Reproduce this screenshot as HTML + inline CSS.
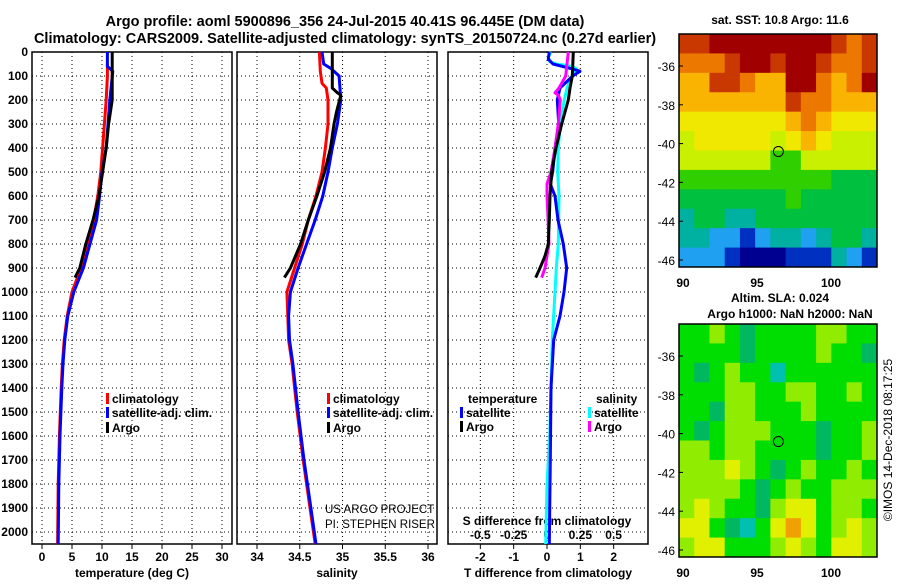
<!DOCTYPE html>
<html><head><meta charset="utf-8"><style>
body{margin:0;background:#fff;width:900px;height:580px;overflow:hidden}
svg{font-family:"Liberation Sans",sans-serif;font-weight:bold}
</style></head><body>
<svg id="c" width="900" height="580" xmlns="http://www.w3.org/2000/svg">
<text x="345" y="26" text-anchor="middle" font-size="14.5">Argo profile: aoml 5900896_356 24-Jul-2015 40.41S 96.445E (DM data)</text>
<text x="345" y="43" text-anchor="middle" font-size="14.5">Climatology: CARS2009. Satellite-adjusted climatology: synTS_20150724.nc (0.27d earlier)</text>
<text x="780" y="24" text-anchor="middle" font-size="12">sat. SST: 10.8 Argo: 11.6</text>
<text x="780" y="302" text-anchor="middle" font-size="12">Altim. SLA: 0.024</text>
<text x="790" y="318" text-anchor="middle" font-size="12">Argo h1000: NaN h2000: NaN</text>
<text transform="translate(892,440) rotate(-90)" text-anchor="middle" font-size="12" font-weight="normal">©IMOS 14-Dec-2018 08:17:25</text>
</svg>
<script>
// ---- data ----
const depthTicks=[0,100,200,300,400,500,600,700,800,900,1000,1100,1200,1300,1400,1500,1600,1700,1800,1900,2000];
const tempTicks=[0,5,10,15,20,25,30];
const salTicks=[34,34.5,35,35.5,36];
const salTickLabels=['34','34.5','35','35.5','36'];
const dTTicks=[-2,-1,0,1,2];
const dSTicks=[-0.5,-0.25,0,0.25,0.5];
const dSTickLabels=['-0.5','-0.25','0','0.25','0.5'];
const latTicks=[-36,-38,-40,-42,-44,-46];
const lonTicks=[90,95,100];

const climTDepth=[50,100,200,300,400,500,600,700,800,900,1000,1100,1200,1300,1400,1600,1800,2050];
const climT=[10.9,10.9,10.7,10.4,10.1,9.8,9.3,8.6,7.6,6.5,5.0,4.2,3.7,3.4,3.2,2.9,2.7,2.6];
const satTDepth=[0,60,80,200,400,500,600,700,800,900,1000,1100,1200,1300,1400,1600,1800,2050];
const satT=[10.9,10.9,11.8,11.3,10.7,10.0,9.6,9.1,8.0,6.9,5.3,4.3,3.8,3.5,3.3,3.0,2.8,2.7];
const argoTDepth=[0,200,300,400,500,600,700,800,900,940];
const argoT=[11.7,11.7,11.1,10.7,10.1,9.5,8.5,7.3,6.3,5.5];

const climSDepth=[0,80,130,150,200,300,400,500,600,700,800,900,1000,1100,1200,1300,1500,1700,1900,2050];
const climS=[34.73,34.74,34.76,34.81,34.83,34.83,34.80,34.76,34.69,34.60,34.53,34.44,34.35,34.36,34.37,34.41,34.47,34.54,34.62,34.68];
const satSDepth=[0,50,70,100,200,300,400,500,600,700,800,900,1000,1100,1200,1300,1500,1700,1900,2050];
const satS=[34.76,34.78,34.87,34.96,34.98,34.94,34.88,34.83,34.77,34.68,34.58,34.48,34.39,34.37,34.38,34.42,34.48,34.55,34.63,34.69];
const argoSDepth=[0,150,170,180,250,300,400,500,600,700,800,900,940];
const argoS=[34.88,34.88,34.94,34.98,34.93,34.90,34.86,34.79,34.70,34.60,34.51,34.39,34.32];

const dTsatDepth=[0,30,50,70,80,100,150,200,300,400,500,550,600,700,800,900,1000,1100,1200,1400,1700,2050];
const dTsat=[0.07,0.04,0.18,0.74,0.99,0.77,0.39,0.31,0.35,0.24,0.17,0.10,0.24,0.33,0.49,0.59,0.51,0.39,0.2,0.12,0.1,0.07];
const dTargoDepth=[0,100,150,200,300,400,500,600,700,800,850,900,940];
const dTargo=[0.79,0.76,0.69,0.64,0.44,0.27,0.14,0.09,0.07,0.04,-0.06,-0.21,-0.34];
const dSsatDepth=[0,20,40,50,60,70,100,150,200,300,400,500,600,800,900,1000,1200,1400,1600,1800,2050];
const dSsat=[0.03,0.01,0.02,0.07,0.19,0.22,0.19,0.15,0.13,0.10,0.085,0.08,0.09,0.085,0.07,0.06,0.04,0.03,0.02,0.0,-0.01];
const dSargoDepth=[0,50,100,150,170,180,200,300,400,500,550,600,700,800,900,940];
const dSargo=[0.16,0.15,0.14,0.09,0.06,0.085,0.10,0.085,0.06,0.03,0.0,0.0,0.008,0.015,-0.015,-0.04];

const sstGrid=[
[8,8,9,9,9,9,9,9,9,9,8,7,8],
[7,7,7,8,9,9,8,9,9,8,7,7,8],
[6,6,8,8,7,6,6,9,9,7,6,7,9],
[6,6,6,6,6,6,6,8,7,7,6,6,6],
[5,5,5,5,5,5,5,6,7,6,5,5,5],
[4,5,5,5,5,5,4,5,6,5,4,4,4],
[4,4,4,4,4,4,3,3,4,4,4,4,4],
[3,3,3,3,3,3,3,3,3,3,2,2,2],
[2,2,2,2,2,2,2,3,2,2,2,2,2],
[1,2,2,1,1,2,2,2,2,2,2,2,2],
[1,1,0,0,-1,0,1,1,0,1,2,2,1],
[0,0,0,-1,-2,-2,-2,-1,-1,-1,1,0,-1]];
const slaGrid=[
[2,2,3,2,1,2,2,2,2,3,3,2,2],
[2,2,2,2,1,2,2,2,2,3,2,2,1],
[2,1,2,3,2,2,0,2,2,2,2,2,2],
[2,2,2,3,3,2,2,3,3,2,2,3,2],
[2,2,1,3,3,2,2,2,3,2,2,2,2],
[2,1,2,3,3,3,2,2,2,1,2,2,3],
[3,3,2,3,3,2,2,2,2,1,2,2,3],
[3,3,3,4,3,2,1,2,3,2,2,3,2],
[3,3,3,3,2,1,2,3,2,2,3,3,3],
[3,4,3,2,2,1,3,4,4,2,3,3,2],
[4,4,2,1,0,2,4,5,4,2,3,4,3],
[3,4,4,2,2,2,3,4,3,2,4,4,3]];
const floatLon=96.445, floatLat=-40.41;

// ---- drawing ----
const svg=document.getElementById('c');const NS='http://www.w3.org/2000/svg';
function mk(t,a,p){const e=document.createElementNS(NS,t);for(const k in a)e.setAttribute(k,a[k]);(p||svg).appendChild(e);return e;}
const yD=d=>52+d*0.24;
const pTop=52,pBot=544;
const panels=[
 {x0:32,x1:232,v0:-1.667,v1:31.667,name:'temperature-panel'},
 {x0:237,x1:437,v0:33.766,v1:36.105,name:'salinity-panel'},
 {x0:448,x1:648,v0:-2.97,v1:3.03,name:'difference-panel'}];
function sx(p,v){return p.x0+(v-p.v0)/(p.v1-p.v0)*(p.x1-p.x0);}
const dSx=v=>547+v*133.3;

panels.forEach((p,i)=>{
 const g=mk('g',{});
 
 
 depthTicks.forEach(d=>{const l=mk('line',{x1:p.x0,x2:p.x1,y1:yD(d),y2:yD(d),stroke:'#000','stroke-dasharray':'1,3','stroke-width':1},g);
  });
 const ticks=i==0?tempTicks:i==1?salTicks:dTTicks;
 ticks.forEach((t,j)=>{const x=sx(p,t);
  const l=mk('line',{x1:x,x2:x,y1:pTop,y2:pBot,stroke:'#000','stroke-dasharray':'1,3'},g);
  
  const tk=mk('line',{x1:x,x2:x,y1:pBot,y2:pBot+5,stroke:'#000'},g);
  
  const tx=mk('text',{x:x,y:561,'text-anchor':'middle','font-size':12},g);
  tx.textContent=i==1?salTickLabels[j]:String(t);
  });
 const fr=mk('rect',{x:p.x0,y:pTop,width:p.x1-p.x0,height:pBot-pTop,fill:'none',stroke:'#000','stroke-width':1.5},g);
 
});
depthTicks.forEach(d=>{const t=mk('text',{x:28,y:yD(d)+4,'text-anchor':'end','font-size':12});t.textContent=d;
 });
dSTicks.forEach((v,j)=>{const t=mk('text',{x:dSx(v),y:539,'text-anchor':'middle','font-size':12});t.textContent=dSTickLabels[j];
 });
[['temperature (deg C)',132,'x-axis-title-temperature'],['salinity',337,'x-axis-title-salinity'],['T difference from climatology',548,'x-axis-title-t-diff']].forEach(a=>{
 const t=mk('text',{x:a[1],y:577,'text-anchor':'middle','font-size':12});t.textContent=a[0];
 });
{const t=mk('text',{x:547,y:525,'text-anchor':'middle','font-size':12});t.textContent='S difference from climatology';
 }
[['US ARGO PROJECT',513],['PI: STEPHEN RISER',528]].forEach(a=>{const t=mk('text',{x:325,y:a[1],'font-size':11.5,'font-weight':'normal'});t.textContent=a[0];
 });

function line(depths,vals,xf,color,name){
 const pts=depths.map((d,k)=>xf(vals[k]).toFixed(1)+','+yD(d).toFixed(1)).join(' ');
 const e=mk('polyline',{points:pts,fill:'none',stroke:color,'stroke-width':3,'stroke-linejoin':'round'});
 }
const P=panels;
line(climTDepth,climT,v=>sx(P[0],v),'#f00','temp-climatology-line');
line(satTDepth,satT,v=>sx(P[0],v),'#00f','temp-satellite-line');
line(argoTDepth,argoT,v=>sx(P[0],v),'#000','temp-argo-line');
line(climSDepth,climS,v=>sx(P[1],v),'#f00','sal-climatology-line');
line(satSDepth,satS,v=>sx(P[1],v),'#00f','sal-satellite-line');
line(argoSDepth,argoS,v=>sx(P[1],v),'#000','sal-argo-line');
line(dSsatDepth,dSsat,dSx,'#0ff','s-diff-satellite-line');
line(dTsatDepth,dTsat,v=>sx(P[2],v),'#00f','t-diff-satellite-line');
line(dSargoDepth,dSargo,dSx,'#f0f','s-diff-argo-line');
line(dTargoDepth,dTargo,v=>sx(P[2],v),'#000','t-diff-argo-line');

function legend(x,y,color,label){
 const g=mk('g',{});
 mk('rect',{x:x,y:y-10,width:3,height:11,fill:color},g);
 const t=mk('text',{x:x+6,y:y,'font-size':12},g);t.textContent=label;}
legend(106,403,'#f00','climatology');legend(106,417,'#00f','satellite-adj. clim.');legend(106,432,'#000','Argo');
legend(327,403,'#f00','climatology');legend(327,417,'#00f','satellite-adj. clim.');legend(327,432,'#000','Argo');
{const t=mk('text',{x:468,y:403,'font-size':12});t.textContent='temperature';
 const s=mk('text',{x:596,y:403,'font-size':12});s.textContent='salinity';}
legend(460,417,'#00f','satellite');legend(460,431,'#000','Argo');
legend(588,417,'#0ff','satellite');legend(588,431,'#f0f','Argo');

// maps
const sstColors={'-2':'#000090','-1':'#0030c0','0':'#20a0f0','1':'#00b0a0','2':'#00c040','3':'#30d000','4':'#c8f000','5':'#f0e800','6':'#f8b400','7':'#ec7800','8':'#c83800','9':'#a00000'};
const slaColors=['#00c0b0','#00b860','#00dd00','#90ec00','#e0f000','#f0a000'];
function map(y0,grid,colors,name){
 const x0=679,x1=877,y1=y0+233;
 const lonX=l=>683+(l-90)*14.8, latY=la=>y0+32+(-36-la)*19.4;
 const g=mk('g',{});
 const rows=grid.length,cols=grid[0].length,cw=(x1-x0)/cols,ch=(y1-y0)/rows;
 grid.forEach((r,i)=>r.forEach((v,j)=>{const c=mk('rect',{x:x0+j*cw,y:y0+i*ch,width:cw+0.5,height:ch+0.5,fill:colors[v]},g);
  }));
 const f=mk('rect',{x:x0,y:y0,width:x1-x0,height:y1-y0,fill:'none',stroke:'#000','stroke-width':1.5},g);
 
 latTicks.forEach(la=>{const t=mk('text',{x:675,y:latY(la)+5,'text-anchor':'end','font-size':12,'font-weight':'normal'},g);t.textContent=la;
  
  const k=mk('line',{x1:x0,x2:x0+4,y1:latY(la),y2:latY(la),stroke:'#000'},g);});
 lonTicks.forEach(lo=>{const t=mk('text',{x:lonX(lo),y:y1+20,'text-anchor':'middle','font-size':12},g);t.textContent=lo;
  });
 const m=mk('circle',{cx:lonX(floatLon),cy:latY(floatLat),r:5,fill:'none',stroke:'#000','stroke-width':1},g);
 
}
map(34,sstGrid,sstColors,'sst-map');
map(324,slaGrid,slaColors,'sla-map');
</script>
</body></html>
